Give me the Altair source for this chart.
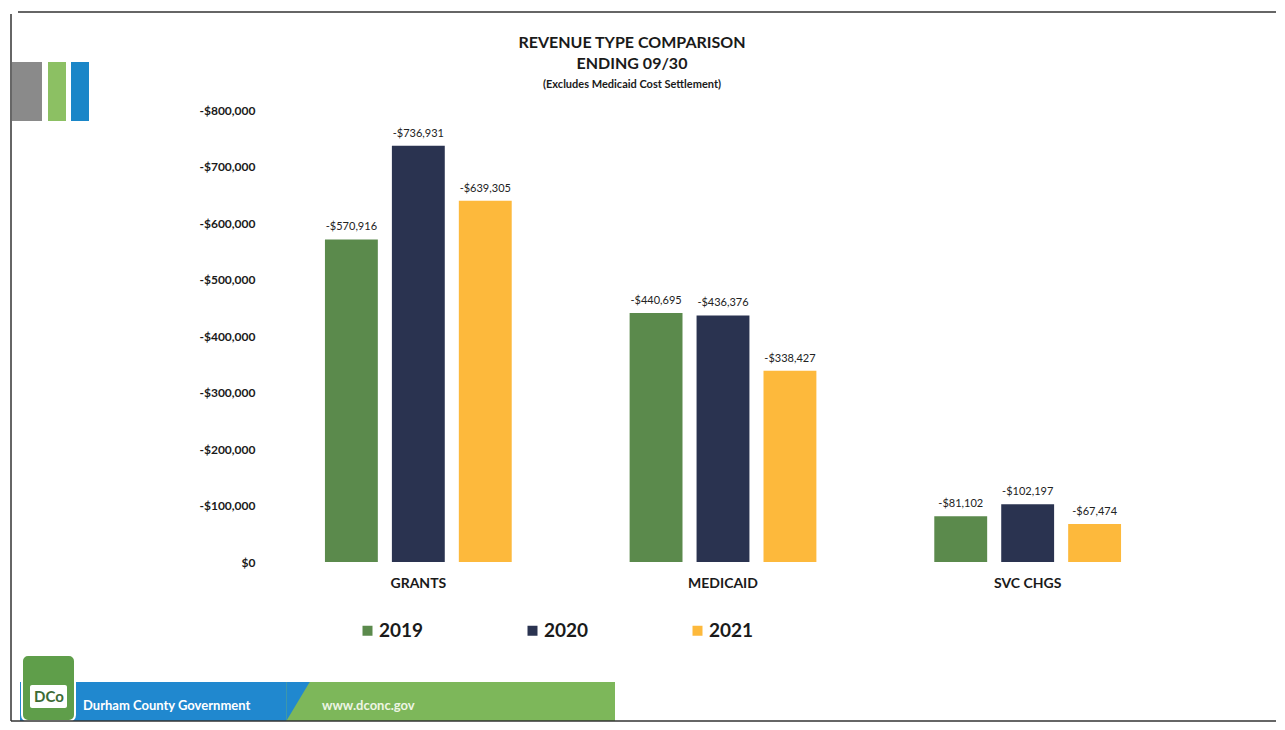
import altair as alt
import pandas as pd

# ---- data ----
categories = ["GRANTS", "MEDICAID", "SVC CHGS"]
years = ["2019", "2020", "2021"]
v2019 = [-570916, -440695, -81102]
v2020 = [-736931, -436376, -102197]
v2021 = [-639305, -338427, -67474]
y_ticks = [-800000, -700000, -600000, -500000, -400000, -300000, -200000, -100000, 0]
colors = ["#5b8a4c", "#2a3350", "#fdb93c"]
title_lines = ["REVENUE TYPE COMPARISON", "ENDING 09/30"]
subtitle = "(Excludes Medicaid Cost Settlement)"

rows = []
for yr, vals in zip(years, [v2019, v2020, v2021]):
    for c, v in zip(categories, vals):
        rows.append({"cat": c, "year": yr, "value": v, "label": f"-${abs(v):,}"})
df = pd.DataFrame(rows)

FONT = "Lato"
W, H = 914, 452

base = alt.Chart(df).encode(
    x=alt.X("cat:N", sort=categories, title=None,
            scale=alt.Scale(paddingInner=0.387, paddingOuter=0.1935),
            axis=alt.Axis(labelFont=FONT, labelFontSize=14, labelFontWeight="bold",
                          labelColor="#1a1a1a", labelPadding=14, domain=False,
                          ticks=False, labelAngle=0)),
    xOffset=alt.XOffset("year:N", sort=years,
                        scale=alt.Scale(paddingInner=0.21, paddingOuter=0)),
    y=alt.Y("value:Q", title=None,
            scale=alt.Scale(domain=[-800000, 0], reverse=True, nice=False),
            axis=alt.Axis(values=y_ticks, grid=False, domain=False, ticks=False,
                          labelFont=FONT, labelFontSize=12, labelFontWeight="bold",
                          labelColor="#1a1a1a", labelPadding=11,
                          labelExpr="datum.value == 0 ? '$0' : '-$' + format(-datum.value, ',')")),
)

bars = base.mark_bar().encode(
    color=alt.Color("year:N", sort=years, scale=alt.Scale(domain=years, range=colors),
                    legend=alt.Legend(title=None, orient="none", legendX=92, legendY=511,
                                      direction="horizontal", symbolType="square",
                                      symbolSize=100, symbolStrokeWidth=0,
                                      labelFont=FONT, labelFontSize=19,
                                      labelFontWeight="bold", labelColor="#1a1a1a",
                                      labelOffset=2, columnPadding=99))
)

labels = base.mark_text(font=FONT, fontSize=11, color="#222222", baseline="bottom",
                        dy=-7).encode(text="label:N")

# ---- slide decorations and heading (non-data) ----
dec = alt.Chart(pd.DataFrame({"d": [0]}))

def rect(x1, x2, y1, y2, color, **kw):
    return dec.mark_rect(color=color, **kw).encode(
        x=alt.value(x1), x2=alt.value(x2), y=alt.value(y1), y2=alt.value(y2))

def text(t, x, y, size, color="#1a1a1a", align="center", weight="bold"):
    return dec.mark_text(text=t, font=FONT, fontSize=size, fontWeight=weight,
                         color=color, align=align, baseline="middle").encode(
        x=alt.value(x), y=alt.value(y))

deco = [
    rect(-254, -224, -48, 11, "#8a8a8a"),
    rect(-218, -200, -48, 11, "#8cc063"),
    rect(-195, -177, -48, 11, "#1a86c8"),
    rect(20, 349, 572, 611, "#7db75a"),
    rect(-246, 20, 572, 611, "#2088cf"),
    dec.mark_point(shape="M-0.6,-1L0.6,-1L-0.6,1Z", filled=True, fill="#2088cf",
                   strokeWidth=0, opacity=1, size=1521).encode(
        x=alt.value(32), y=alt.value(591.5)),
    rect(-244, -191, 545, 611, "#5f9e4a", stroke="white", strokeWidth=2,
         cornerRadius=6),
    rect(-236, -199, 575, 598, "#ffffff", cornerRadius=2),
    text("DCo", -217, 587, 15, color="#3d6b35"),
    text("Durham County Government", -183, 596, 13, color="white", align="left"),
    text("www.dconc.gov", 56, 596, 13, color="#eef5e4", align="left"),
    text(title_lines[0], 366, -67, 16),
    text(title_lines[1], 366, -46, 16),
    text(subtitle, 366, -25, 11),
    dec.mark_rule(color="#333333", strokeWidth=1.5).encode(
        x=alt.value(-248), x2=alt.value(1010), y=alt.value(-98)),
    dec.mark_rule(color="#333333", strokeWidth=1.5).encode(
        x=alt.value(-255), y=alt.value(-96), y2=alt.value(611)),
    dec.mark_rule(color="#333333", strokeWidth=1.5).encode(
        x=alt.value(-255), x2=alt.value(1010), y=alt.value(611)),
]

chart = alt.layer(*deco, bars, labels).properties(
    width=W, height=H,
    background="white",
    padding={"left": 258, "top": 102, "right": 96, "bottom": 160},
    autosize=alt.AutoSizeParams(type="none"),
).configure_view(stroke=None, strokeWidth=0)

chart.save("out.html", embed_options={"renderer": "svg", "actions": False})
